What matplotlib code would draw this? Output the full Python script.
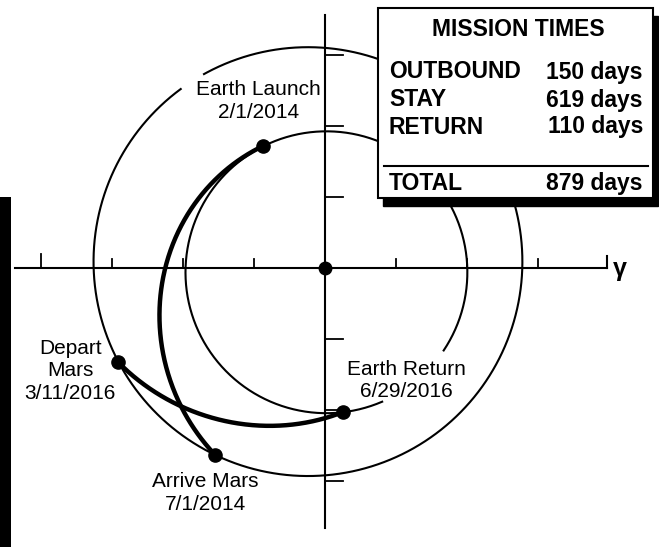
import numpy as np
import matplotlib
matplotlib.use("Agg")
import matplotlib.pyplot as plt
from matplotlib.patches import Rectangle

plt.rcParams['font.family'] = ['Liberation Sans', 'DejaVu Sans']

# orbits (units: 1 tick)
earth_center = (0.02, -0.06)
earth_radius = 1.985
earth_gap = (-66.7, -33.7)        # degrees, hidden behind label
mars_center = (-0.24, 0.09)
mars_radius = 3.02
mars_gap = (119.0, 126.4)

# mission events
event_labels = ["Earth Launch\n2/1/2014", "Arrive Mars\n7/1/2014",
                "Depart\nMars\n3/11/2016", "Earth Return\n6/29/2016"]
event_x = [-0.87, -1.55, -2.92, 0.25]
event_y = [1.72, -2.63, -1.32, -2.03]

# one point (between its two events)
outbound_via = (-2.25, 0.0)
return_via = (-1.056, -2.21)

# mission times
phases = ["OUTBOUND", "STAY", "RETURN"]
days = [150, 619, 110]

x_ticks = [-4, -3, -2, -1, 1, 2, 3]
y_ticks = [-3, -2, -1, 1, 2, 3]

W, H = 659, 547
fig = plt.figure(figsize=(W / 100, H / 100), dpi=100)
ax = fig.add_axes([0, 0, 1, 1])
ax.set_xlim(-325 / 71, 334 / 71)
ax.set_ylim(-279 / 71, 268 / 71)
ax.axis('off')


def px(x, y):
    return x / W, 1 - y / H


def arc(center, radius, gap):
    t = np.radians(np.linspace(gap[1], gap[0] + 360, 400))
    return center[0] + radius * np.cos(t), center[1] + radius * np.sin(t)


def conic(p0, p1, p2, n=300):
    # conic with the sun at its focus through three points
    pts = np.array([p0, p1, p2])
    r = np.hypot(pts[:, 0], pts[:, 1])
    th = np.unwrap(np.arctan2(pts[:, 1], pts[:, 0]) % (2 * np.pi))
    M = np.column_stack([np.ones(3), np.cos(th), np.sin(th)])
    a, b, c = np.linalg.solve(M, 1 / r)
    t = np.linspace(th[0], th[2], n)
    rr = 1 / (a + b * np.cos(t) + c * np.sin(t))
    return rr * np.cos(t), rr * np.sin(t)


lw = 1.5
# axes
ax.plot([-4.37, 3.97], [0, 0], color='black', lw=lw)
ax.plot([0, 0], [-3.66, 3.56], color='black', lw=lw)
for t in x_ticks:
    ax.plot([t, t], [0, 0.2 if t == -4 else 0.13], color='black', lw=1.3)
ax.plot([3.97, 3.97], [0, 0.17], color='black', lw=1.5)
for t in y_ticks:
    ax.plot([0, 0.25], [t, t], color='black', lw=1.3)
ax.text(4.05, -0.02, "γ", fontsize=18, fontweight='bold', ha='left', va='center')

# orbits
ax.plot(*arc(earth_center, earth_radius, earth_gap), color='black', lw=lw)
ax.plot(*arc(mars_center, mars_radius, mars_gap), color='black', lw=lw)

# transfers
ax.plot(*conic((event_x[0], event_y[0]), outbound_via, (event_x[1], event_y[1])),
        color='black', lw=3.2, solid_capstyle='round')
ax.plot(*conic((event_x[2], event_y[2]), return_via, (event_x[3], event_y[3])),
        color='black', lw=3.2, solid_capstyle='round')

ax.plot(event_x, event_y, 'o', color='black', markersize=9.5, zorder=5)
ax.plot(0, 0, 'o', color='black', markersize=9, zorder=5)

label_pos = [(-0.94, 2.35), (-1.68, -3.17), (-3.59, -1.45), (1.15, -1.58)]
for lab, (lx, ly) in zip(event_labels, label_pos):
    ax.text(lx, ly, lab, fontsize=15, ha='center', va='center',
            multialignment='center', linespacing=1.22)

# mission times box
x0, y0 = px(378, 198)
x1, y1 = px(653, 8)
fig.patches.append(Rectangle((x0 + 5 / W, y0 - 8 / H), x1 - x0, y1 - y0,
                             transform=fig.transFigure, facecolor='black',
                             edgecolor='black', zorder=10))
fig.patches.append(Rectangle((x0, y0), x1 - x0, y1 - y0,
                             transform=fig.transFigure, facecolor='white',
                             edgecolor='black', lw=1.5, zorder=11))
fig.text(*px(518, 29), "MISSION TIMES", fontsize=16.5, fontweight='bold',
         ha='center', va='center', zorder=12)
for i, (ph, d) in enumerate(zip(phases, days)):
    yy = [72, 100, 127][i]
    fig.text(*px(389, yy), ph, fontsize=16.5, fontweight='bold',
             ha='left', va='center', zorder=12)
    fig.text(*px(643, yy), f"{d} days", fontsize=16.5, fontweight='bold',
             ha='right', va='center', zorder=12)
fig.lines.append(plt.Line2D([384 / W, 648 / W], [1 - 166 / H] * 2,
                            transform=fig.transFigure, color='black', lw=1.5, zorder=12))
fig.text(*px(389, 184), "TOTAL", fontsize=16.5, fontweight='bold',
         ha='left', va='center', zorder=12)
fig.text(*px(643, 184), f"{sum(days)} days", fontsize=16.5, fontweight='bold',
         ha='right', va='center', zorder=12)

# black strip at left edge
fig.patches.append(Rectangle((0, 0), 11 / W, 1 - 197 / H,
                             transform=fig.transFigure, facecolor='black', zorder=10))

fig.savefig("out.png", dpi=100)
